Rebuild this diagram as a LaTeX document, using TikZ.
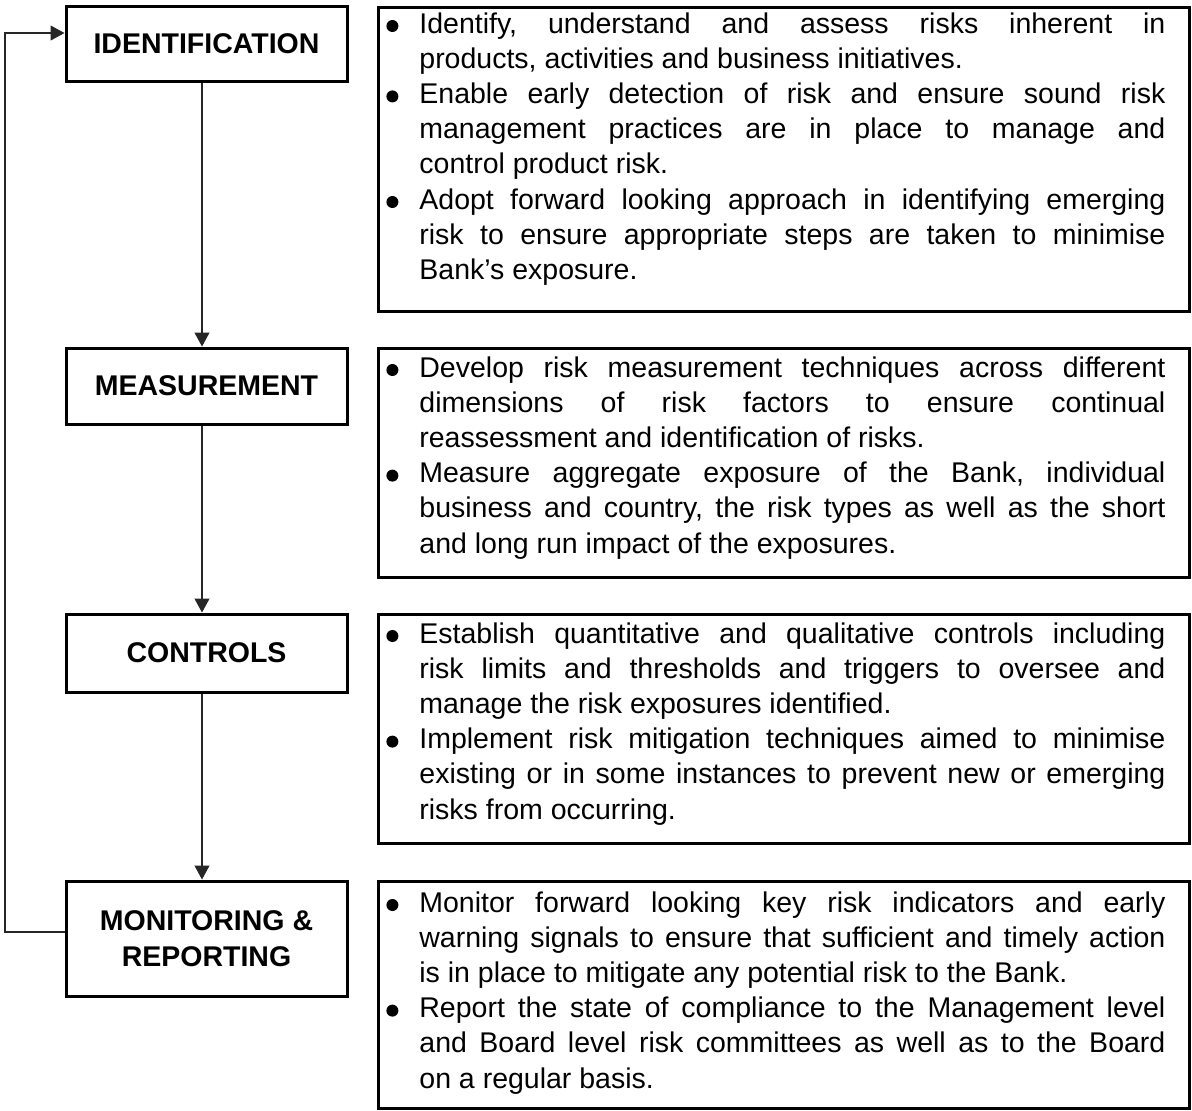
\documentclass[tikz,border=0pt]{standalone}
\usepackage{fontspec}
\setmainfont{Liberation Sans}
\usetikzlibrary{arrows.meta,calc}
\setlength{\parindent}{0pt}
\newcommand\bul{\hspace*{-19.5pt}\makebox[19.5pt][l]{\hspace{3pt}\tikz[baseline=0pt]\fill (3pt,3.5pt) circle[radius=3pt];}}
\newcommand\txtsetup{\leftskip=19.5pt\relax\rightskip=0pt\relax\spaceskip=0pt\relax\xspaceskip=0pt\relax\parfillskip=0pt plus 1fil\relax\tolerance=10000\pretolerance=-1\hbadness=10000\frenchspacing\hyphenpenalty=10000\exhyphenpenalty=10000\relax}
\begin{document}
\begin{tikzpicture}[x=0.5pt,y=-0.5pt,
  stage/.style={draw,line width=1.5pt,minimum width=140.5pt,inner sep=0pt,align=center,
    font=\fontsize{14.25pt}{18.3pt}\selectfont\bfseries},
  tbox/.style={draw,line width=1.5pt,minimum width=405.5pt,inner sep=0pt},
  txt/.style={anchor=base west,inner sep=0pt,text width=392.5pt,align=justify,
    font=\fontsize{14.25pt}{17.6pt}\selectfont},
  conn/.style={line width=0.55pt,draw=black!85},
  tip/.style={-{Triangle[length=7pt,width=7.5pt]}}]
\useasboundingbox (0,0) rectangle (1192,1110);

% stage boxes
\node[stage,minimum height=37.5pt] (id)   at (206.5,43.5)  {IDENTIFICATION};
\node[stage,minimum height=38pt]   (meas) at (206.5,386)   {MEASUREMENT};
\node[stage,minimum height=39pt]   (ctrl) at (206.5,653)   {CONTROLS};
\node[stage,minimum height=57.5pt] (mon)  at (206.5,938.5) {MONITORING \&\\REPORTING};

% description boxes
\node[tbox,minimum height=152pt]   (tb1) at (783.5,159)   {};
\node[tbox,minimum height=114.5pt] (tb2) at (783.5,462.5) {};
\node[tbox,minimum height=114.5pt] (tb3) at (783.5,728.5) {};
\node[tbox,minimum height=113.5pt] (tb4) at (783.5,994.5) {};

% texts
\node[txt] (t1) at (380,33) {\txtsetup
\bul Identify, understand and assess risks inherent in\linebreak products, activities and business initiatives.\par
\bul Enable early detection of risk and ensure sound risk\linebreak management practices are in place to manage and\linebreak control product risk.\par
\bul Adopt forward looking approach in identifying emerging\linebreak risk to ensure appropriate steps are taken to minimise\linebreak Bank’s exposure.\par};

\node[txt] (t2) at (380,377) {\txtsetup
\bul Develop risk measurement techniques across different\linebreak dimensions of risk factors to ensure continual\linebreak reassessment and identification of risks.\par
\bul Measure aggregate exposure of the Bank, individual\linebreak business and country, the risk types as well as the short\linebreak and long run impact of the exposures.\par};

\node[txt] (t3) at (380,643) {\txtsetup
\bul Establish quantitative and qualitative controls including\linebreak risk limits and thresholds and triggers to oversee and\linebreak manage the risk exposures identified.\par
\bul Implement risk mitigation techniques aimed to minimise\linebreak existing or in some instances to prevent new or emerging\linebreak risks from occurring.\par};

\node[txt] (t4) at (380,912) {\txtsetup
\bul Monitor forward looking key risk indicators and early\linebreak warning signals to ensure that sufficient and timely action\linebreak is in place to mitigate any potential risk to the Bank.\par
\bul Report the state of compliance to the Management level\linebreak and Board level risk committees as well as to the Board\linebreak on a regular basis.\par};

% connectors
\coordinate (axis) at (202,0);
\draw[conn,tip] (id.south -| axis) -- (meas.north -| axis);
\draw[conn,tip] (meas.south -| axis) -- (ctrl.north -| axis);
\draw[conn,tip] (ctrl.south -| axis) -- (mon.north -| axis);

\coordinate (fbx) at (5,0);
\coordinate (monout) at ($(mon.west)+(0,-6.5)$);
\coordinate (idin) at ($(id.west)+(0,-10.5)$);
\draw[conn,tip] (monout) -- (monout -| fbx) -- (idin -| fbx) -- (idin);
\end{tikzpicture}
\end{document}
